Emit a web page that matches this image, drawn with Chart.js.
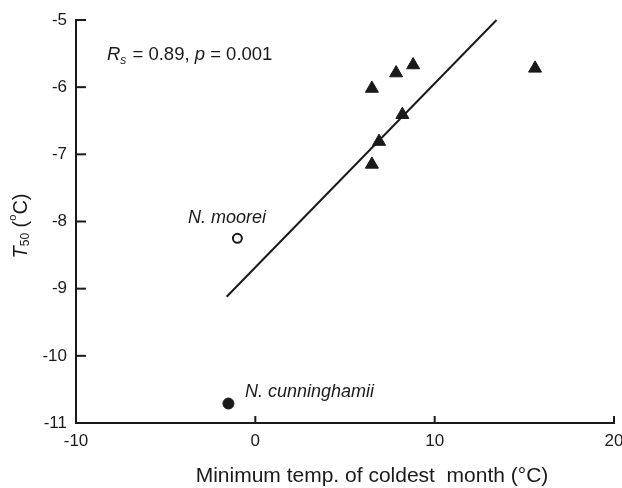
<!DOCTYPE html>
<html>
<head>
<meta charset="utf-8">
<script src="https://cdn.jsdelivr.net/npm/chart.js@4/dist/chart.umd.min.js"></script>
<style>
  html, body { margin: 0; padding: 0; background: #fff; }
  #wrap { width: 622px; height: 488px; }
</style>
</head>
<body>
<div id="wrap"><canvas id="chart" width="622" height="488"></canvas></div>
<script>
// data
const speciesX = [6.5, 7.85, 8.8, 15.6, 8.2, 6.9, 6.5];
const speciesY = [-6.02, -5.79, -5.67, -5.72, -6.41, -6.81, -7.15];
const mooreiPoint = {x: -1.0, y: -8.25};
const cunninghamiiPoint = {x: -1.5, y: -10.71};
const fitX = [-1.6, 13.45];
const fitY = [-9.12, -5.0];
const xTicks = [-10, 0, 10, 20];
const yTicks = [-5, -6, -7, -8, -9, -10, -11];

const ink = '#1a1a1a';
const FONT = '"Liberation Sans", Arial, sans-serif';

// draws inward ticks, axis titles and in-plot notes
const notesPlugin = {
  id: 'notes',
  afterDraw(chart) {
    const c = chart.ctx;
    const xs = chart.scales.x, ys = chart.scales.y;
    const area = chart.chartArea;
    c.save();
    c.strokeStyle = ink;
    c.lineWidth = 2;
    yTicks.forEach(v => {
      const py = ys.getPixelForValue(v);
      c.beginPath(); c.moveTo(area.left, py); c.lineTo(area.left + 10, py); c.stroke();
    });
    xTicks.forEach(v => {
      const px = xs.getPixelForValue(v);
      c.beginPath(); c.moveTo(px, area.bottom); c.lineTo(px, area.bottom - 7); c.stroke();
    });

    c.fillStyle = ink;
    c.textBaseline = 'middle';

    // stats note
    let x = 107, y = 55;
    c.textAlign = 'left';
    c.font = 'italic 18.5px ' + FONT;
    c.fillText('R', x, y); x += c.measureText('R').width;
    c.font = 'italic 12px ' + FONT;
    c.fillText('s', x, y + 6); x += c.measureText('s').width + 1;
    c.font = '18.5px ' + FONT;
    c.fillText(' = 0.89, ', x, y); x += c.measureText(' = 0.89, ').width;
    c.font = 'italic 18.5px ' + FONT;
    c.fillText('p', x, y); x += c.measureText('p').width;
    c.font = '18.5px ' + FONT;
    c.fillText(' = 0.001', x, y);

    // species labels
    c.font = 'italic 18px ' + FONT;
    c.textAlign = 'center';
    c.fillText('N. moorei', 227, 218);
    c.textAlign = 'left';
    c.fillText('N. cunninghamii', 245, 392);

    // x title
    c.font = '21px ' + FONT;
    c.textAlign = 'center';
    c.fillText('Minimum temp. of coldest  month (\u00B0C)', 372, 476);

    // y title, rotated
    c.translate(21, 226);
    c.rotate(-Math.PI / 2);
    const parts = [
      {t: 'T', f: 'italic 20px ', dy: 0},
      {t: '50', f: '12px ', dy: 5},
      {t: ' (', f: '20px ', dy: 0},
      {t: 'o', f: '11px ', dy: -8},
      {t: 'C)', f: '20px ', dy: 0}
    ];
    let total = 0;
    parts.forEach(p => { c.font = p.f + FONT; total += c.measureText(p.t).width; });
    let px = -total / 2;
    c.textAlign = 'left';
    parts.forEach(p => {
      c.font = p.f + FONT;
      c.fillText(p.t, px, p.dy);
      px += c.measureText(p.t).width;
    });
    c.restore();
  }
};

const ctx = document.getElementById('chart');
new Chart(ctx, {
  type: 'scatter',
  data: {
    datasets: [
      {
        label: 'fit',
        type: 'line',
        data: fitX.map((v, i) => ({x: v, y: fitY[i]})),
        borderColor: ink,
        borderWidth: 2,
        pointRadius: 0,
        fill: false
      },
      {
        label: 'species',
        data: speciesX.map((v, i) => ({x: v, y: speciesY[i]})),
        pointStyle: 'triangle',
        pointRadius: 7.5,
        backgroundColor: ink,
        borderColor: ink,
        borderWidth: 1
      },
      {
        label: 'N. moorei',
        data: [mooreiPoint],
        pointStyle: 'circle',
        pointRadius: 4.5,
        backgroundColor: '#fff',
        borderColor: ink,
        borderWidth: 2
      },
      {
        label: 'N. cunninghamii',
        data: [cunninghamiiPoint],
        pointStyle: 'circle',
        pointRadius: 5.5,
        backgroundColor: ink,
        borderColor: ink,
        borderWidth: 1
      }
    ]
  },
  plugins: [notesPlugin],
  options: {
    responsive: false,
    animation: false,
    clip: false,
    layout: {
      autoPadding: false,
      padding: {left: 0, right: 8, top: 20, bottom: 0}
    },
    plugins: {
      legend: {display: false},
      tooltip: {enabled: false}
    },
    scales: {
      x: {
        type: 'linear',
        min: -10,
        max: 20,
        afterFit: s => { s.height = 65; s.paddingLeft = 0; s.paddingRight = 0; },
        afterBuildTicks: s => { s.ticks = xTicks.map(v => ({value: v})); },
        grid: {drawOnChartArea: false, drawTicks: false},
        border: {color: ink, width: 2},
        ticks: {color: ink, font: {size: 17, family: FONT}, padding: 8, maxRotation: 0}
      },
      y: {
        type: 'linear',
        min: -11,
        max: -5,
        afterFit: s => { s.width = 76; s.paddingTop = 0; s.paddingBottom = 0; },
        afterBuildTicks: s => { s.ticks = yTicks.map(v => ({value: v})); },
        grid: {drawOnChartArea: false, drawTicks: false},
        border: {color: ink, width: 2},
        ticks: {color: ink, font: {size: 17, family: FONT}, padding: 9}
      }
    }
  }
});
</script>
</body>
</html>
